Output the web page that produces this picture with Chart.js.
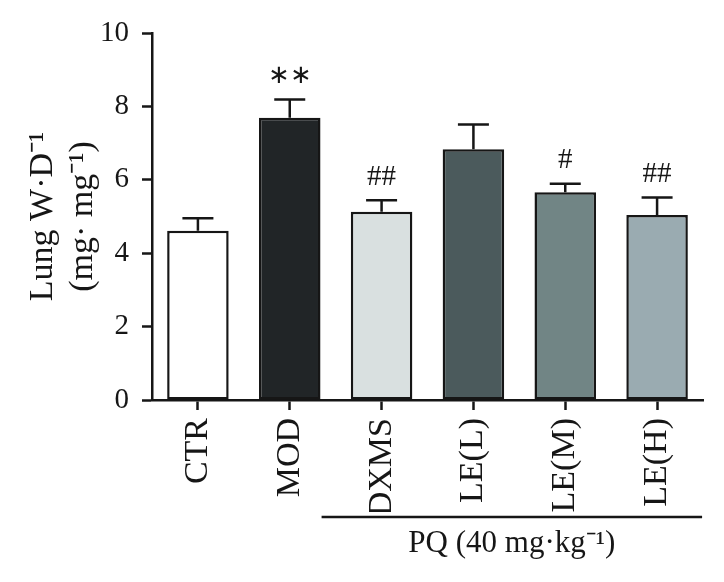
<!DOCTYPE html>
<html>
<head>
<meta charset="utf-8">
<script src="https://cdn.jsdelivr.net/npm/chart.js@4"></script>
<style>
  html, body { margin: 0; padding: 0; background: #fff; }
  #wrap { width: 724px; height: 582px; }
</style>
</head>
<body>
<div id="wrap"><canvas id="chart" width="724" height="582"></canvas></div>
<script>
// 肺湿干比 - 各组均值与误差
const categories = ['CTR', 'MOD', 'DXMS', 'LE(L)', 'LE(M)', 'LE(H)'];
const means = [4.61, 7.69, 5.13, 6.83, 5.66, 5.04];
const errors = [0.34, 0.50, 0.31, 0.68, 0.23, 0.48];
const marks = ['', '∗∗', '##', '', '#', '##'];
const yTickValues = [0, 2, 4, 6, 8, 10];
const groupLabel = 'PQ (40 mg·kg⁻¹)';
const groupFrom = 2, groupTo = 5;

const barColors = ['#ffffff', '#212527', '#d9e0e0', '#4b5a5c', '#718585', '#9aabb1'];
const ink = '#161616';

Chart.defaults.font.family = '"Liberation Serif", "Times New Roman", serif';
Chart.defaults.color = ink;

/**
 * 误差线 + 显著性标记 + 分组横线
 */
const annotatePlugin = {
    id: 'annotate',
    afterDatasetsDraw(chart) {
        const ctx = chart.ctx;
        const x = chart.scales.x;
        const y = chart.scales.y;
        const meta = chart.getDatasetMeta(0);

        ctx.save();
        ctx.strokeStyle = ink;
        ctx.lineWidth = 2.5;
        ctx.lineCap = 'butt';

        meta.data.forEach((bar, i) => {
            const cx = bar.x;
            const yTop = y.getPixelForValue(means[i]);
            const yErr = y.getPixelForValue(means[i] + errors[i]);
            ctx.beginPath();
            ctx.moveTo(cx, yTop);
            ctx.lineTo(cx, yErr);
            ctx.moveTo(cx - 15.5, yErr);
            ctx.lineTo(cx + 15.5, yErr);
            ctx.stroke();

            if (marks[i]) {
                ctx.fillStyle = ink;
                ctx.textAlign = 'center';
                ctx.textBaseline = 'middle';
                ctx.font = (marks[i].startsWith('#') ? '29px' : '26px') + ' "Liberation Serif", serif';
                ctx.fillText(marks[i], cx, yErr - 23);
            }
        });

        // 分组横线
        const lineY = chart.chartArea.bottom + 117;
        const x1 = x.getPixelForValue(groupFrom) - 60;
        const x2 = x.getPixelForValue(groupTo) + 45;
        ctx.beginPath();
        ctx.moveTo(x1, lineY);
        ctx.lineTo(x2, lineY);
        ctx.stroke();

        ctx.fillStyle = ink;
        ctx.textAlign = 'center';
        ctx.textBaseline = 'middle';
        ctx.font = '31px "Liberation Serif", serif';
        ctx.fillText(groupLabel, (x1 + x2) / 2, lineY + 27);
        ctx.restore();
    }
};

new Chart(document.getElementById('chart'), {
    type: 'bar',
    data: {
        labels: categories,
        datasets: [{
            data: means,
            backgroundColor: barColors,
            borderColor: ink,
            borderWidth: 2.5,
            borderSkipped: false,
            categoryPercentage: 1,
            barPercentage: 0.67
        }]
    },
    options: {
        responsive: false,
        animation: false,
        layout: { padding: { top: 33, right: 21, bottom: 70, left: 0 } },
        plugins: {
            legend: { display: false },
            tooltip: { enabled: false }
        },
        scales: {
            x: {
                offset: true,
                grid: {
                    offset: false,
                    drawOnChartArea: false,
                    drawTicks: true,
                    tickLength: 10,
                    tickColor: ink,
                    tickWidth: 2.5
                },
                border: { display: true, color: ink, width: 2.5 },
                ticks: {
                    minRotation: 90,
                    maxRotation: 90,
                    padding: 8,
                    font: { size: 34 }
                },
                afterFit(scale) { scale.height = 112; }
            },
            y: {
                min: 0,
                max: 10,
                afterBuildTicks(scale) {
                    scale.ticks = yTickValues.map(v => ({ value: v }));
                },
                grid: {
                    drawOnChartArea: false,
                    drawTicks: true,
                    tickLength: 10,
                    tickColor: ink,
                    tickWidth: 2.5
                },
                border: { display: true, color: ink, width: 2.5 },
                ticks: {
                    padding: 13,
                    font: { size: 29 }
                },
                title: {
                    display: true,
                    text: ['Lung W·D⁻¹', '(mg· mg⁻¹)'],
                    font: { size: 34, lineHeight: 1.18 },
                    padding: { top: 23, bottom: 0 }
                },
                afterFit(scale) { scale.width = 152; }
            }
        }
    },
    plugins: [annotatePlugin]
});
</script>
</body>
</html>
